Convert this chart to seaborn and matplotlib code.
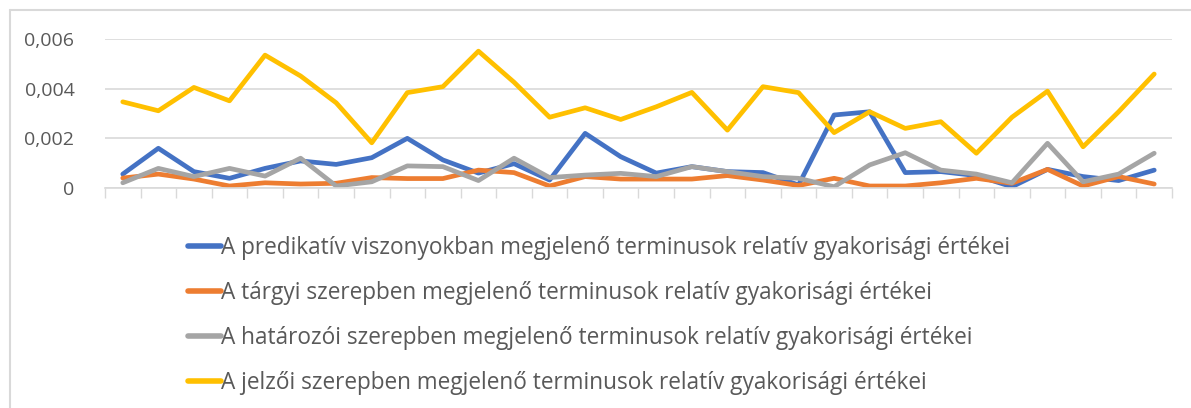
import numpy as np
import pandas as pd
import matplotlib
matplotlib.use("Agg")
import matplotlib.pyplot as plt
from matplotlib import font_manager
from matplotlib.lines import Line2D
from matplotlib.ticker import FuncFormatter, FixedLocator
import seaborn as sns

labels = [
    "A predikatív viszonyokban megjelenő terminusok relatív gyakorisági értékei",
    "A tárgyi szerepben megjelenő terminusok relatív gyakorisági értékei",
    "A határozói szerepben megjelenő terminusok relatív gyakorisági értékei",
    "A jelzői szerepben megjelenő terminusok relatív gyakorisági értékei",
]

predikativ = [0.00056, 0.00160, 0.00066, 0.00039, 0.00079, 0.00109, 0.00095, 0.00122, 0.00200, 0.00113,
              0.00060, 0.00098, 0.00032, 0.00220, 0.00126, 0.00060, 0.00086, 0.00066, 0.00062, 0.00012,
              0.00294, 0.00307, 0.00062, 0.00066, 0.00050, 0.00005, 0.00075, 0.00046, 0.00030, 0.00072]
targyi = [0.00040, 0.00056, 0.00036, 0.00008, 0.00021, 0.00016, 0.00019, 0.00042, 0.00038, 0.00038,
          0.00072, 0.00062, 0.00008, 0.00046, 0.00036, 0.00036, 0.00036, 0.00050, 0.00032, 0.00010,
          0.00039, 0.00008, 0.00008, 0.00021, 0.00039, 0.00019, 0.00075, 0.00008, 0.00046, 0.00016]
hatarozoi = [0.00021, 0.00079, 0.00046, 0.00079, 0.00048, 0.00120, 0.00008, 0.00025, 0.00089, 0.00086,
             0.00030, 0.00120, 0.00042, 0.00052, 0.00059, 0.00046, 0.00086, 0.00066, 0.00046, 0.00039,
             0.00005, 0.00093, 0.00142, 0.00072, 0.00056, 0.00021, 0.00180, 0.00025, 0.00056, 0.00140]
jelzoi = [0.00347, 0.00311, 0.00405, 0.00351, 0.00535, 0.00451, 0.00343, 0.00182, 0.00384, 0.00408,
          0.00551, 0.00426, 0.00285, 0.00323, 0.00276, 0.00327, 0.00385, 0.00233, 0.00408, 0.00384,
          0.00223, 0.00307, 0.00240, 0.00267, 0.00140, 0.00285, 0.00390, 0.00166, 0.00307, 0.00459]

colors = ["#4472C4", "#ED7D31", "#A5A5A5", "#FFC000"]
yticks = [0, 0.002, 0.004, 0.006]

n = len(jelzoi)
x = list(range(n))
df = pd.concat([
    pd.DataFrame({"x": x, "value": vals, "series": lab})
    for lab, vals in zip(labels, [predikativ, targyi, hatarozoi, jelzoi])
], ignore_index=True)

sns.set_theme(style="white")
avail = {f.name for f in font_manager.fontManager.ttflist}
fam = "Liberation Sans Narrow" if "Liberation Sans Narrow" in avail else "Open Sans"
plt.rcParams["font.family"] = [fam, "DejaVu Sans"]

fig = plt.figure(figsize=(11.91, 4.08), dpi=100)
ax = fig.add_axes([105 / 1191, 1 - 188 / 408, (1172 - 105) / 1191, (188 - 39) / 408])

sns.lineplot(data=df, x="x", y="value", hue="series", hue_order=labels,
             palette=colors, linewidth=3.4, ax=ax, legend=True, sort=False,
             solid_joinstyle="round", solid_capstyle="round")

ax.set_xlim(-0.5, n - 0.5)
ax.set_ylim(0, 0.006)
ax.set_xlabel("")
ax.set_ylabel("")
ax.yaxis.set_major_locator(FixedLocator(yticks))
ax.yaxis.set_major_formatter(FuncFormatter(lambda v, p: "0" if abs(v) < 1e-12 else f"{v:.3f}".replace(".", ",")))
ax.set_xticks(np.arange(-0.5, n, 1.0))
ax.set_xticklabels([])
ax.tick_params(axis="x", length=7, width=1, color="#d9d9d9", bottom=True)
ax.tick_params(axis="y", length=0, pad=22, labelsize=14, labelcolor="#595959")
ax.grid(axis="y", color="#d9d9d9", linewidth=1.2)
ax.set_axisbelow(True)
for s in ["top", "right", "left"]:
    ax.spines[s].set_visible(False)
ax.spines["bottom"].set_color("#d9d9d9")
ax.spines["bottom"].set_linewidth(1.2)

handles, labs = ax.get_legend_handles_labels()
ax.legend_.remove()
leg = fig.legend(handles, labs, loc="upper left", bbox_to_anchor=(179 / 1191, 1 - 227 / 408),
                 frameon=False, fontsize=16.3, labelcolor="#595959", handlelength=1.45,
                 handletextpad=0.02, labelspacing=0.92, borderaxespad=0)
for h in leg.get_lines():
    h.set_linewidth(4)
    h.set_solid_capstyle("round")

# chart area border (partly cropped in the original)
fig.add_artist(Line2D([10 / 1191, 10 / 1191], [0, 1 - 10 / 408], transform=fig.transFigure,
                      color="#d9d9d9", linewidth=1.5))
fig.add_artist(Line2D([10 / 1191, 1], [1 - 10 / 408, 1 - 10 / 408], transform=fig.transFigure,
                      color="#d9d9d9", linewidth=1.5))

fig.savefig("out.png", dpi=100)
